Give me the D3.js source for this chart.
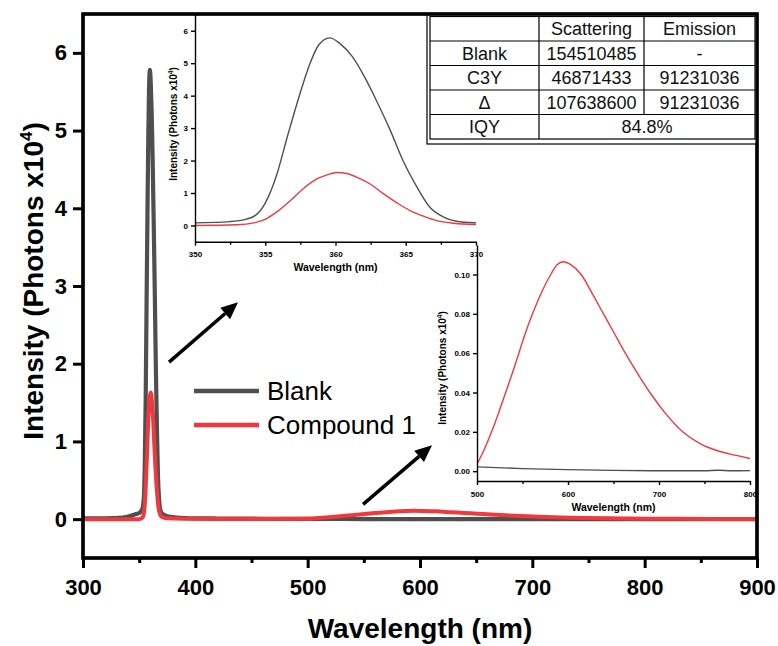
<!DOCTYPE html>
<html><head><meta charset="utf-8">
<script src="https://cdn.jsdelivr.net/npm/d3@7"></script>
<style>
html,body{margin:0;padding:0;background:#fff;}
svg{display:block;font-family:"Liberation Sans",Arial,sans-serif;}
</style></head>
<body><svg id="c" width="778" height="646"></svg>
<script>
// ---------------- DATA ----------------
const blankWl  = [300,320,335,342,346,350,352.5,353.6,354.3,355,355.8,356.6,357.4,358.1,358.8,359.6,360.3,361.2,362,362.9,363.9,364.8,365.8,366.7,367.7,368.6,370,373,378,390,420,460,500,550,600,650,700,750,765,780,800,850,900];
const blankVal = [0.01,0.01,0.02,0.04,0.06,0.08,0.12,0.19,0.31,0.69,1.54,2.78,3.96,4.89,5.56,5.78,5.61,5.2,4.63,3.86,2.93,2.0,1.18,0.57,0.26,0.13,0.08,0.05,0.03,0.015,0.008,0.005,0.0022,0.0013,0.0008,0.0004,0.0002,0.0002,0.0005,0.0002,0.0003,0.0002,0.0001];
const cmpWl  = [300,320,340,350,353,354.2,355,355.8,356.8,357.7,358.7,359.4,360.1,360.8,361.5,362.5,363.4,364.4,365.3,366.3,367.2,368.4,370,375,390,450,500,507,516,524,531.5,539,546,553,561,570,581,588,595,603,614.5,627,639,651,663,676,690,706,726,745,767,785,800,830,860,900];
const cmpVal = [0.0,0.0,0.0,0.0,0.02,0.08,0.19,0.41,0.77,1.13,1.44,1.56,1.63,1.6,1.49,1.27,0.98,0.69,0.46,0.28,0.15,0.07,0.03,0.01,0.005,0.003,0.0036,0.01,0.02,0.03,0.04,0.05,0.06,0.07,0.08,0.09,0.10,0.105,0.1065,0.105,0.10,0.09,0.08,0.07,0.06,0.05,0.04,0.03,0.02,0.014,0.01,0.008,0.0064,0.004,0.002,0.001];
const seriesNames = ["Blank","Compound 1"];
const mainXTicks = [300,400,500,600,700,800,900];
const mainXMinor = [350,450,550,650,750,850];
const mainYTicks = [0,1,2,3,4,5,6];
const in1XTicks = [350,355,360,365,370];
const in1XMinor = [352.5,357.5,362.5,367.5];
const in1YTicks = [0,1,2,3,4,5,6];
const in2XTicks = [500,600,700,800];
const in2XMinor = [550,650,750];
const in2YTicks = [0,0.02,0.04,0.06,0.08,0.10];
const tableHeader = ["","Scattering","Emission"];
const tableRows = [["Blank","154510485","-"],["C3Y","46871433","91231036"],["\u0394","107638600","91231036"]];
const tableLast = ["IQY","84.8%"];
// arrows in main-plot data coordinates [wl0,val0,wl1,val1]
const arrows = [[376.6,2.02,438,2.79],[549.3,0.19,610.7,0.95]];

// ---------------- SETUP ----------------
const svg = d3.select("#c");
const GRAY="#4f4f4f", RED="#f0383d";
const FONT='"Liberation Sans",Arial,sans-serif';
const blank = blankWl.map((w,i)=>({x:w,y:blankVal[i]}));
const cmp = cmpWl.map((w,i)=>({x:w,y:cmpVal[i]}));

// main scales
const x = d3.scaleLinear([300,900],[83,757]);
const y = d3.scaleLinear([-0.5,6.5],[558,14]);

const defs = svg.append("defs");
function clip(id,xs,ys){
  defs.append("clipPath").attr("id",id).append("rect")
    .attr("x",xs.range()[0]).attr("y",ys.range()[1])
    .attr("width",xs.range()[1]-xs.range()[0]).attr("height",ys.range()[0]-ys.range()[1]);
}
clip("cm",x,y);

const lineMain = d3.line().x(d=>x(d.x)).y(d=>y(d.y)).curve(d3.curveMonotoneX);
const gm = svg.append("g").attr("clip-path","url(#cm)");
gm.append("path").datum(blank).attr("d",lineMain).attr("fill","none").attr("stroke",GRAY).attr("stroke-width",4.2).attr("stroke-linejoin","round");
gm.append("path").datum(cmp).attr("d",lineMain).attr("fill","none").attr("stroke",RED).attr("stroke-width",4).attr("stroke-linejoin","round");

// main axes
function styleAxis(g,size,weight){
  g.selectAll("text").attr("font-size",size).attr("font-weight",weight).attr("font-family",FONT).attr("fill","#000");
}
const gx = svg.append("g").attr("transform",`translate(0,${y.range()[0]})`)
  .call(d3.axisBottom(x).tickValues(mainXTicks).tickSize(10).tickPadding(11).tickSizeOuter(0));
gx.select(".domain").remove();
gx.selectAll("line").attr("stroke","#000").attr("stroke-width",3);
styleAxis(gx,22,"bold");
const gxm = svg.append("g").attr("transform",`translate(0,${y.range()[0]})`)
  .call(d3.axisBottom(x).tickValues(mainXMinor).tickSize(5).tickFormat(""));
gxm.select(".domain").remove();
gxm.selectAll("line").attr("stroke","#000").attr("stroke-width",3);

const gy = svg.append("g").attr("transform",`translate(${x.range()[0]},0)`)
  .call(d3.axisLeft(y).tickValues(mainYTicks).tickSize(10).tickPadding(6).tickSizeOuter(0).tickFormat(d3.format("d")));
gy.select(".domain").remove();
gy.selectAll("line").attr("stroke","#000").attr("stroke-width",3);
styleAxis(gy,22,"bold");

svg.append("rect").attr("x",x.range()[0]).attr("y",y.range()[1])
  .attr("width",x.range()[1]-x.range()[0]).attr("height",y.range()[0]-y.range()[1])
  .attr("fill","none").attr("stroke","#000").attr("stroke-width",3.2);

svg.append("text").attr("x",(x.range()[0]+x.range()[1])/2).attr("y",638).attr("text-anchor","middle")
  .attr("font-size",28).attr("font-weight","bold").text("Wavelength (nm)");
const yt = svg.append("text").attr("transform","translate(43,281) rotate(-90)").attr("text-anchor","middle")
  .attr("font-size",28).attr("font-weight","bold");
yt.append("tspan").text("Intensity (Photons x10");
yt.append("tspan").attr("font-size",17).attr("dy",-11).text("4");
yt.append("tspan").attr("dy",11).text(")");

// legend
const legY=[391,425];
[GRAY,RED].forEach((c,i)=>{
  svg.append("line").attr("x1",194).attr("x2",259).attr("y1",legY[i]).attr("y2",legY[i]).attr("stroke",c).attr("stroke-width",4.5);
  svg.append("text").attr("x",267).attr("y",legY[i]+9).attr("font-size",26).text(seriesNames[i]);
});

// arrows
arrows.forEach(a=>{
  const x0=x(a[0]),y0=y(a[1]),x1=x(a[2]),y1=y(a[3]);
  const ang=Math.atan2(y1-y0,x1-x0), L=17, Wd=7.5;
  const bx=x1-L*Math.cos(ang), by=y1-L*Math.sin(ang);
  svg.append("line").attr("x1",x0).attr("y1",y0).attr("x2",bx).attr("y2",by).attr("stroke","#000").attr("stroke-width",3.5);
  const px=-Math.sin(ang)*Wd, py=Math.cos(ang)*Wd;
  svg.append("path").attr("d",`M${x1},${y1}L${bx+px},${by+py}L${bx-px},${by-py}Z`).attr("fill","#000");
});

// ---------------- INSETS ----------------
function inset(opts){
  const xs=opts.x, ys=opts.y, id=opts.id;
  clip(id,xs,ys);
  const ln=d3.line().x(d=>xs(d.x)).y(d=>ys(d.y)).curve(d3.curveMonotoneX);
  const g=svg.append("g").attr("clip-path",`url(#${id})`);
  const dom=xs.domain();
  const f=d=>d.x>=dom[0]-3&&d.x<=dom[1]+3;
  g.append("path").datum(blank.filter(f)).attr("d",ln).attr("fill","none").attr("stroke",GRAY).attr("stroke-width",1.4);
  g.append("path").datum(cmp.filter(f)).attr("d",ln).attr("fill","none").attr("stroke",RED).attr("stroke-width",1.4);
  const ax=svg.append("g").attr("transform",`translate(0,${ys.range()[0]})`)
    .call(d3.axisBottom(xs).tickValues(opts.xt).tickSize(4).tickPadding(6).tickSizeOuter(0).tickFormat(opts.xf));
  const axm=svg.append("g").attr("transform",`translate(0,${ys.range()[0]})`)
    .call(d3.axisBottom(xs).tickValues(opts.xm).tickSize(3).tickFormat(""));
  axm.select(".domain").remove();
  const ay=svg.append("g").attr("transform",`translate(${xs.range()[0]},0)`)
    .call(d3.axisLeft(ys).tickValues(opts.yt).tickSize(4).tickPadding(3).tickSizeOuter(0).tickFormat(opts.yf));
  [ax,axm,ay].forEach(g=>{
    g.selectAll("line,path").attr("stroke","#000").attr("stroke-width",1.4);
    styleAxis(g,8,"bold");
  });
  svg.append("text").attr("x",(xs.range()[0]+xs.range()[1])/2).attr("y",opts.titleY).attr("text-anchor","middle")
    .attr("font-size",10.5).attr("font-weight","bold").text("Wavelength (nm)");
  const t=svg.append("text").attr("transform",`translate(${opts.ytX},${opts.ytY}) rotate(-90)`).attr("text-anchor","middle")
    .attr("font-size",10).attr("font-weight","bold");
  t.append("tspan").text("Intensity (Photons x10");
  t.append("tspan").attr("font-size",6.5).attr("dy",-4).text("4");
  t.append("tspan").attr("dy",4).text(")");
}
inset({id:"c1",x:d3.scaleLinear([350,370],[195,476]),y:d3.scaleLinear([-0.5,6.5],[241.7,14.5]),
  xt:in1XTicks,xm:in1XMinor,yt:in1YTicks,xf:d3.format("d"),yf:d3.format("d"),titleY:271,ytX:177,ytY:124});
inset({id:"c2",x:d3.scaleLinear([500,800],[477,750]),y:d3.scaleLinear([-0.005,0.115],[481,245]),
  xt:in2XTicks,xm:in2XMinor,yt:in2YTicks,xf:d3.format("d"),yf:d3.format(".2f"),titleY:511,ytX:446,ytY:368});

// ---------------- TABLE ----------------
const tb=svg.append("g");
tb.append("rect").attr("x",427).attr("y",15).attr("width",330).attr("height",129).attr("fill","#fff").attr("stroke","#000").attr("stroke-width",1.2);
const colX=[430,539,644,755], rowY=[16.5,41,65.5,90,114.5,139];
const allRows=[tableHeader,...tableRows];
tb.append("rect").attr("x",colX[0]).attr("y",rowY[0]).attr("width",colX[3]-colX[0]).attr("height",rowY[5]-rowY[0]).attr("fill","none").attr("stroke","#000").attr("stroke-width",1.2);
rowY.slice(1,5).forEach(r=>tb.append("line").attr("x1",colX[0]).attr("x2",colX[3]).attr("y1",r).attr("y2",r).attr("stroke","#000").attr("stroke-width",1.2));
[1,2].forEach(ci=>tb.append("line").attr("x1",colX[ci]).attr("x2",colX[ci]).attr("y1",rowY[0]).attr("y2",ci===2?rowY[4]:rowY[5]).attr("stroke","#000").attr("stroke-width",1.2));
allRows.forEach((row,ri)=>row.forEach((cell,ci)=>{
  tb.append("text").attr("x",(colX[ci]+colX[ci+1])/2).attr("y",(rowY[ri]+rowY[ri+1])/2+6.5)
    .attr("text-anchor","middle").attr("font-size",18).attr("fill","#111").text(cell);
}));
tb.append("text").attr("x",(colX[0]+colX[1])/2).attr("y",(rowY[4]+rowY[5])/2+6.5).attr("text-anchor","middle").attr("font-size",18).attr("fill","#111").text(tableLast[0]);
tb.append("text").attr("x",(colX[1]+colX[3])/2).attr("y",(rowY[4]+rowY[5])/2+6.5).attr("text-anchor","middle").attr("font-size",18).attr("fill","#111").text(tableLast[1]);
// redraw main frame on top so it stays crisp over the table
svg.append("rect").attr("x",x.range()[0]).attr("y",y.range()[1])
  .attr("width",x.range()[1]-x.range()[0]).attr("height",y.range()[0]-y.range()[1])
  .attr("fill","none").attr("stroke","#000").attr("stroke-width",3.2);
</script></body></html>
